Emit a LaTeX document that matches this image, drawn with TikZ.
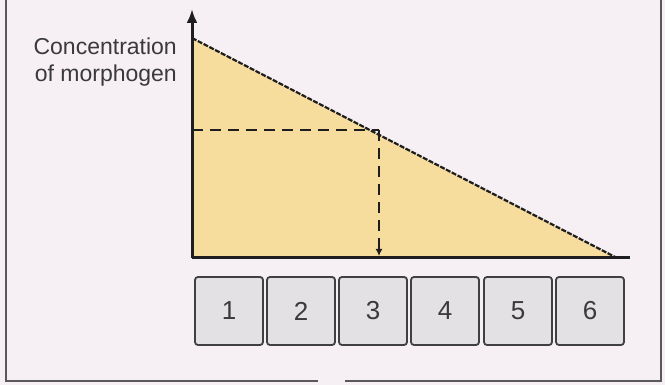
\documentclass[tikz,border=0pt]{standalone}
\usepackage{fontspec}
\setmainfont{Liberation Sans}
\usetikzlibrary{arrows.meta}
\definecolor{bg}{HTML}{F6EFF3}
\definecolor{wedge}{HTML}{F6DD9E}
\definecolor{boxfill}{HTML}{E4E1E4}
\definecolor{ink}{HTML}{1E1E1E}
\definecolor{txt}{HTML}{3A3A3A}
\tikzset{
  cellbox/.style={draw=ink!85, line width=1.8pt, fill=boxfill, rounded corners=3pt,
    minimum width=68pt, minimum height=68pt, inner sep=0pt,
    font=\fontsize{26}{28}\selectfont, text=txt},
  axisline/.style={draw=ink, line width=3pt},
  frameline/.style={draw=black!65, line width=2.5pt},
  guide/.style={draw=ink, line width=2pt, dash pattern=on 11pt off 7pt},
}
\begin{document}
\begin{tikzpicture}[x=1pt,y=-1pt]
\useasboundingbox (0,0) rectangle (665,385);
\fill[bg] (0,0) rectangle (665,385);
% frame
\draw[frameline] (6,0) -- (6,381) -- (318,381);
\draw[frameline] (345,381) -- (661,381) -- (661,0);
% wedge
\coordinate (o) at (192,258);
\coordinate (top) at (192,38);
\coordinate (end) at (617,258);
\coordinate (tip) at (192,9);
\coordinate (xend) at (630,258);
\fill[wedge] (o) -- (top) -- (end) -- cycle;
\draw[ink, line width=2.2pt, dash pattern=on 5pt off 1.5pt] (top) -- (end);
% guides
\coordinate (h) at (192,130);
\coordinate (m) at (379,130);
\coordinate (mb) at (379,256);
\draw[guide] (h) -- (m);
\draw[guide, -{Latex[length=7pt,width=7pt]}] (m) -- (mb);
% axes
\draw[axisline, -{Latex[length=14pt,width=11pt]}] (o) -- (tip);
\draw[axisline] (o) -- (xend);
% label
\node[anchor=east, align=right, text=txt, font=\fontsize{23}{27}\selectfont, inner sep=0pt] (lab) at (177,62) {Concentration\\of morphogen};
% cells
\node[cellbox] (b1) at (229,311) {1};
\node[cellbox] (b2) at (301,311) {2};
\node[cellbox] (b3) at (373,311) {3};
\node[cellbox] (b4) at (445,311) {4};
\node[cellbox] (b5) at (518,311) {5};
\node[cellbox] (b6) at (590,311) {6};
\end{tikzpicture}
\end{document}
